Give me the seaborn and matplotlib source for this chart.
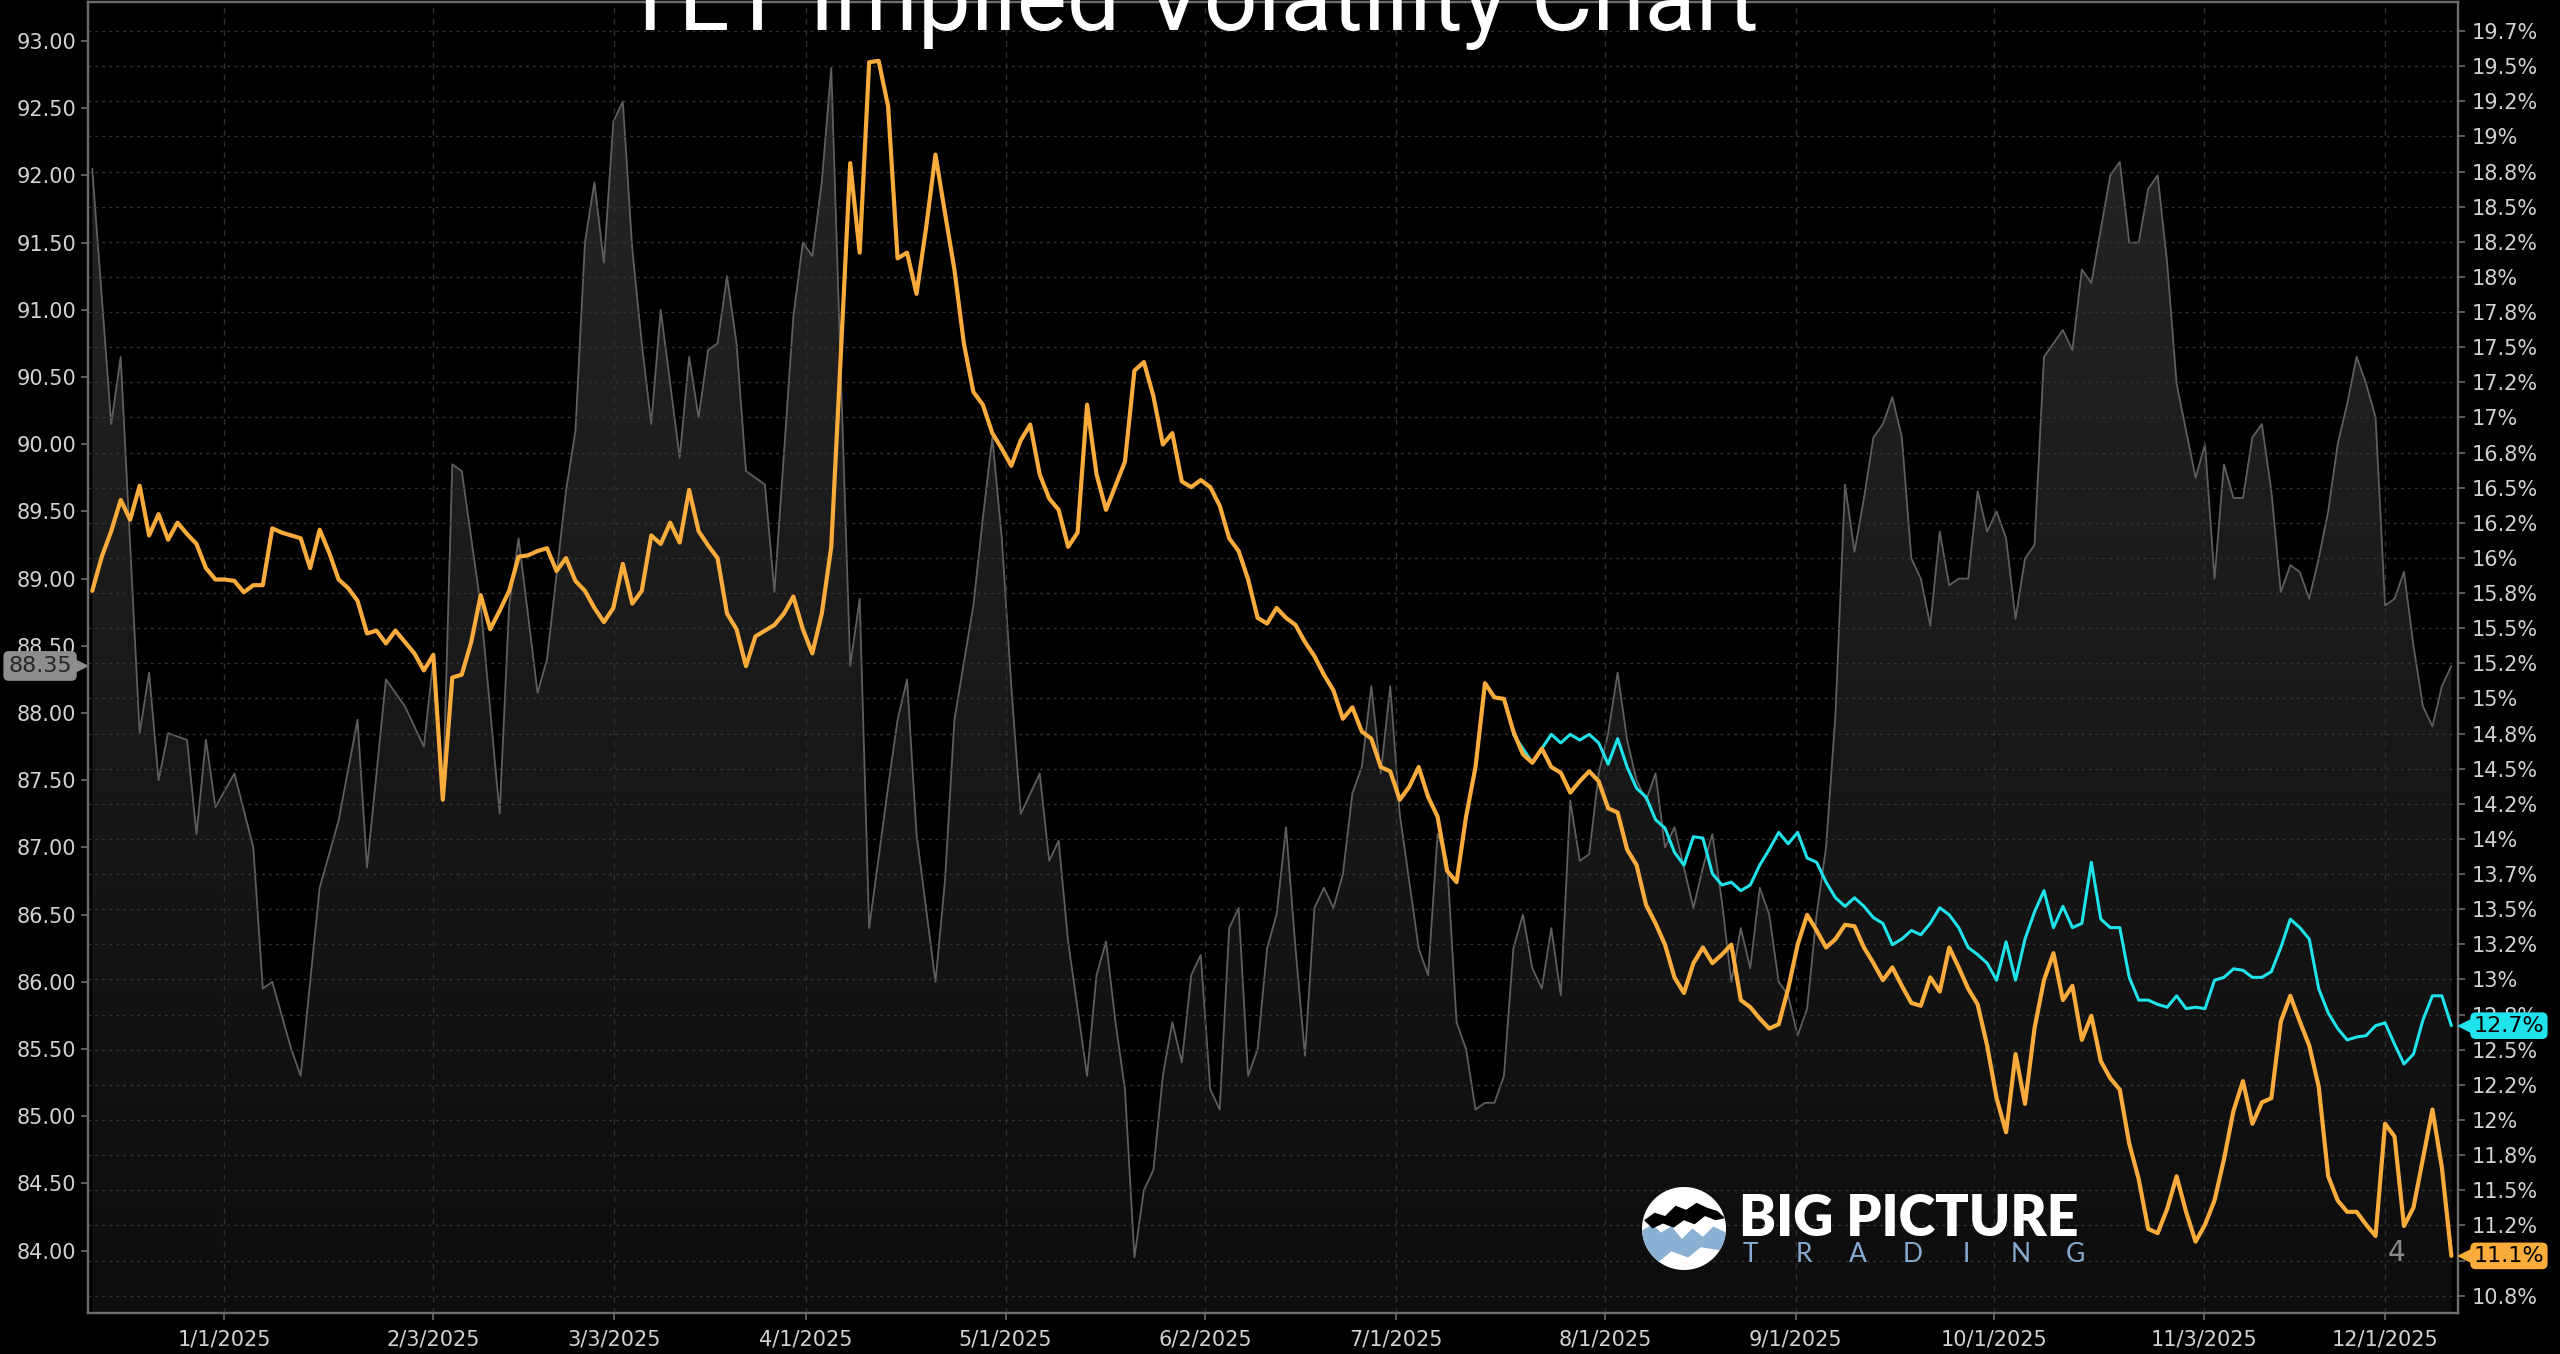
import numpy as np
import matplotlib
matplotlib.use("Agg")
import matplotlib.pyplot as plt
import matplotlib.transforms as mtransforms
from matplotlib.colors import LinearSegmentedColormap
from matplotlib.patches import Circle, Polygon
import seaborn as sns

# x axis = bar number (one bar per trading session, 0 = first bar on the chart)
tick_bar = [13.9, 36.0, 55.1, 75.3, 96.4, 117.5, 137.6, 159.7, 179.8, 200.7, 222.9, 242.0]
tick_dates = ["1/1/2025", "2/3/2025", "3/3/2025", "4/1/2025", "5/1/2025", "6/2/2025",
              "7/1/2025", "8/1/2025", "9/1/2025", "10/1/2025", "11/3/2025", "12/1/2025"]

# TLT close (left axis)
tlt_bar = [0, 2, 3, 5, 6, 7, 8, 10, 11, 12, 13, 15, 17, 18, 19, 21, 22, 24, 26, 28,
           29, 31, 33, 35, 36, 37, 38, 39, 40, 41, 43, 44, 45, 47, 48, 50, 51, 52, 53, 54,
           55, 56, 57, 58, 59, 60, 62, 63, 64, 65, 66, 67, 68, 69, 71, 72, 74, 75, 76, 77,
           78, 79, 80, 81, 82, 84, 85, 86, 87, 89, 90, 91, 93, 94, 95, 96, 97, 98] + list(range(100, 250))
tlt_close = [92.05, 90.15, 90.65, 87.85, 88.3, 87.5, 87.85, 87.8, 87.1, 87.8,
             87.3, 87.55, 87.0, 85.95, 86.0, 85.5, 85.3, 86.7, 87.2, 87.95,
             86.85, 88.25, 88.05, 87.75, 88.4, 87.35, 89.85, 89.8, 89.3, 88.8,
             87.25, 88.8, 89.3, 88.15, 88.4, 89.65, 90.1, 91.5, 91.95, 91.35,
             92.4, 92.55, 91.45, 90.75, 90.15, 91.0, 89.9, 90.65, 90.2, 90.7,
             90.75, 91.25, 90.75, 89.8, 89.7, 88.9, 90.95, 91.5, 91.4, 91.95,
             92.8, 90.55, 88.35, 88.85, 86.4, 87.45, 87.95, 88.25, 87.1, 86.0,
             86.75, 87.95, 88.8, 89.45, 90.05, 89.3, 88.2, 87.25,
             87.55, 86.9, 87.05, 86.3, 85.8, 85.3, 86.05, 86.3, 85.7, 85.2,
             83.95, 84.45, 84.6, 85.3, 85.7, 85.4, 86.05, 86.2, 85.2, 85.05,
             86.4, 86.55, 85.3, 85.5, 86.25, 86.5, 87.15, 86.25, 85.45, 86.55,
             86.7, 86.55, 86.8, 87.4, 87.6, 88.2, 87.55, 88.2, 87.25, 86.75,
             86.25, 86.05, 87.1, 86.9, 85.7, 85.5, 85.05, 85.1, 85.1, 85.3,
             86.25, 86.5, 86.1, 85.95, 86.4, 85.9, 87.35, 86.9, 86.95, 87.55,
             87.85, 88.3, 87.8, 87.5, 87.35, 87.55, 87.0, 87.15, 86.85, 86.55,
             86.85, 87.1, 86.6, 86.0, 86.4, 86.1, 86.7, 86.5, 86.0, 85.9,
             85.6, 85.8, 86.5, 87.0, 88.0, 89.7, 89.2, 89.6, 90.05, 90.15,
             90.35, 90.05, 89.15, 89.0, 88.65, 89.35, 88.95, 89.0, 89.0, 89.65,
             89.35, 89.5, 89.3, 88.7, 89.15, 89.25, 90.65, 90.75, 90.85, 90.7,
             91.3, 91.2, 91.6, 92.0, 92.1, 91.5, 91.5, 91.9, 92.0, 91.35,
             90.45, 90.1, 89.75, 90.0, 89.0, 89.85, 89.6, 89.6, 90.05, 90.15,
             89.65, 88.9, 89.1, 89.05, 88.85, 89.15, 89.5, 90.0, 90.3, 90.65,
             90.45, 90.2, 88.8, 88.85, 89.05, 88.5, 88.05, 87.9, 88.2, 88.35]

# implied volatility, % (right axis)
iv_bar = list(range(0, 246)) + [247, 248, 249]
iv = [15.76, 16.00, 16.18, 16.40, 16.26, 16.50, 16.15, 16.30, 16.12, 16.24,
      16.16, 16.09, 15.92, 15.84, 15.84, 15.83, 15.75, 15.80, 15.80, 16.20,
      16.17, 16.15, 16.13, 15.92, 16.19, 16.03, 15.84, 15.78, 15.69, 15.46,
      15.48, 15.39, 15.48, 15.40, 15.32, 15.20, 15.31, 14.29, 15.15, 15.17,
      15.40, 15.73, 15.49, 15.62, 15.76, 16.00, 16.01, 16.04, 16.06, 15.90,
      15.99, 15.83, 15.76, 15.64, 15.54, 15.64, 15.95, 15.67, 15.76, 16.15,
      16.09, 16.24, 16.10, 16.47, 16.18, 16.08, 15.99, 15.60, 15.49, 15.23,
      15.44, 15.48, 15.52, 15.60, 15.72, 15.49, 15.32, 15.60, 16.07, 17.41,
      18.77, 18.14, 19.48, 19.49, 19.17, 18.10, 18.14, 17.85, 18.31, 18.83,
      18.42, 18.02, 17.50, 17.16, 17.07, 16.87, 16.76, 16.64, 16.82, 16.93,
      16.58, 16.41, 16.33, 16.07, 16.17, 17.07, 16.58, 16.33, 16.50, 16.67,
      17.31, 17.37, 17.13, 16.79, 16.87, 16.53, 16.49, 16.54, 16.49, 16.36,
      16.13, 16.04, 15.84, 15.57, 15.53, 15.64, 15.57, 15.52, 15.40, 15.30,
      15.17, 15.06, 14.86, 14.94, 14.77, 14.72, 14.52, 14.49, 14.29, 14.38,
      14.52, 14.31, 14.17, 13.79, 13.71, 14.17, 14.52, 15.11, 15.01, 15.00,
      14.77, 14.61, 14.55, 14.65, 14.52, 14.48, 14.34, 14.42, 14.49, 14.42,
      14.23, 14.20, 13.94, 13.83, 13.55, 13.42, 13.27, 13.04, 12.93, 13.14,
      13.25, 13.14, 13.20, 13.27, 12.88, 12.83, 12.75, 12.68, 12.71, 12.96,
      13.27, 13.48, 13.37, 13.25, 13.31, 13.41, 13.40, 13.25, 13.14, 13.02,
      13.11, 12.98, 12.86, 12.84, 13.04, 12.94, 13.25, 13.11, 12.96, 12.85,
      12.56, 12.19, 11.95, 12.50, 12.15, 12.68, 13.02, 13.21, 12.88, 12.98,
      12.60, 12.77, 12.45, 12.33, 12.25, 11.87, 11.62, 11.27, 11.24, 11.41,
      11.64, 11.39, 11.18, 11.30, 11.47, 11.76, 12.10, 12.31, 12.01, 12.16,
      12.19, 12.73, 12.91, 12.73, 12.56, 12.27, 11.64, 11.47, 11.39, 11.39,
      11.30, 11.22, 12.01, 11.92, 11.29, 11.42,
      12.11, 11.70, 11.08]

# second volatility series (cyan), %
hv_bar = list(range(150, 250))
hv = [14.75, 14.65, 14.55, 14.65, 14.75, 14.69, 14.75, 14.71, 14.75, 14.69,
      14.54, 14.72, 14.52, 14.37, 14.31, 14.15, 14.09, 13.92, 13.83, 14.03,
      14.02, 13.77, 13.69, 13.71, 13.65, 13.69, 13.83, 13.94, 14.06, 13.98,
      14.06, 13.88, 13.85, 13.71, 13.60, 13.54, 13.60, 13.54, 13.46, 13.42,
      13.27, 13.31, 13.37, 13.34, 13.42, 13.53, 13.48, 13.39, 13.25, 13.20,
      13.14, 13.02, 13.29, 13.02, 13.31, 13.50, 13.65, 13.39, 13.54, 13.39,
      13.42, 13.85, 13.45, 13.39, 13.39, 13.04, 12.88, 12.88, 12.85, 12.83,
      12.91, 12.82, 12.83, 12.82, 13.02, 13.04, 13.10, 13.09, 13.04, 13.04,
      13.08, 13.25, 13.45, 13.39, 13.31, 12.96, 12.79, 12.68, 12.60, 12.62,
      12.63, 12.70, 12.72, 12.57, 12.43, 12.50, 12.74, 12.91, 12.91, 12.70]

price_ticks = [84.0, 84.5, 85.0, 85.5, 86.0, 86.5, 87.0, 87.5, 88.0, 88.5,
               89.0, 89.5, 90.0, 90.5, 91.0, 91.5, 92.0, 92.5, 93.0]
iv_tick_labels = ["19.7%", "19.5%", "19.2%", "19%", "18.8%", "18.5%", "18.2%", "18%",
                  "17.8%", "17.5%", "17.2%", "17%", "16.8%", "16.5%", "16.2%", "16%",
                  "15.8%", "15.5%", "15.2%", "15%", "14.8%", "14.5%", "14.2%", "14%",
                  "13.7%", "13.5%", "13.2%", "13%", "12.8%", "12.5%", "12.2%", "12%",
                  "11.8%", "11.5%", "11.2%", "11%", "10.8%"]
iv_ticks = np.linspace(19.7, 10.8, len(iv_tick_labels))

ORANGE = "#f9ab3b"
CYAN = "#1fe2ea"
GREY_BOX = "#8d8d8d"
SPINE = "#6c6c6c"
TXT = "#d2d2d2"

sns.set_theme(style="dark")
plt.rcParams["font.family"] = ["DejaVu Sans"]

fig = plt.figure(figsize=(25.6, 13.54), dpi=100, facecolor="black")
ax = fig.add_axes([88 / 2560, 1 - 1313 / 1354, (2458 - 88) / 2560, (1313 - 2) / 1354])
ax.set_facecolor("black")
ax2 = ax.twinx()

xlo, xhi = -0.45, 249.7
plo, phi = 83.536, 93.29
ax.set_xlim(xlo, xhi)
ax.set_ylim(plo, phi)

# grey area with a soft vertical gradient
fill = ax.fill_between(tlt_bar, tlt_close, plo, facecolor="none", edgecolor="none")
grad = np.linspace(0, 1, 256).reshape(-1, 1)
cmap = LinearSegmentedColormap.from_list("tltfill", ["#0d0d0d", "#262626"])
img = ax.imshow(grad, extent=[xlo, xhi, plo, phi], origin="lower", aspect="auto",
                cmap=cmap, zorder=1)
img.set_clip_path(fill.get_paths()[0], transform=ax.transData)
sns.lineplot(x=tlt_bar, y=tlt_close, ax=ax, color="#5e5e5e", lw=1.3, zorder=2)
ax.set_xlim(xlo, xhi)
ax.set_ylim(plo, phi)

sns.lineplot(x=iv_bar, y=iv, ax=ax2, color=ORANGE, lw=3.0, zorder=4)
sns.lineplot(x=hv_bar, y=hv, ax=ax2, color=CYAN, lw=2.2, zorder=3)
ax2.set_ylim(10.678, 19.904)
ax2.set_xlim(xlo, xhi)

# axes styling
ax.set_yticks(price_ticks, [f"{v:.2f}" for v in price_ticks])
ax.set_xticks(tick_bar, tick_dates)
ax2.set_yticks(iv_ticks, iv_tick_labels)
for a in (ax, ax2):
    a.set_xlabel("")
    a.set_ylabel("")
    for sp in a.spines.values():
        sp.set_visible(True)
        sp.set_color(SPINE)
        sp.set_linewidth(1.6)
ax.tick_params(axis="both", colors=SPINE, labelcolor=TXT, labelsize=15, length=5, width=1.2,
               direction="out", left=True, bottom=True)
ax.tick_params(axis="x", pad=7)
ax2.tick_params(axis="y", colors=SPINE, labelcolor=TXT, labelsize=15, length=5, width=1.2,
                direction="out", right=True, pad=5)

ax.grid(False)
ax.set_axisbelow(False)
ax.xaxis.grid(True, color="#2e2e2e", ls=(0, (4, 4)), lw=1.0)
ax2.grid(False)
ax2.yaxis.grid(True, color="#333333", ls=(0, (2, 3)), lw=1.0)

# last-value labels
tl = mtransforms.blended_transform_factory(ax.transAxes, ax.transData)
tr = mtransforms.blended_transform_factory(ax2.transAxes, ax2.transData)
last_p = tlt_close[-1]
ax.text(-0.0068, last_p, f"{last_p:.2f}", transform=tl, ha="right", va="center", fontsize=16,
        color="#262626", zorder=10, clip_on=False,
        bbox=dict(boxstyle="round,pad=0.22,rounding_size=0.25", fc=GREY_BOX, ec="none"))
ax.plot([-0.0026], [last_p], marker=">", ms=10, mew=0, color=GREY_BOX, transform=tl,
        clip_on=False, zorder=10)
for val, col in ((hv[-1], CYAN), (iv[-1], ORANGE)):
    ax2.text(1.0066, val, f"{val:.1f}%", transform=tr, ha="left", va="center", fontsize=16,
             color="black", zorder=10, clip_on=False,
             bbox=dict(boxstyle="round,pad=0.15,rounding_size=0.25", fc=col, ec="none"))
    ax2.plot([1.0026], [val], marker="<", ms=10, mew=0, color=col, transform=tr,
             clip_on=False, zorder=10)

ax2.text(0.974, 0.046, "4", transform=ax2.transAxes, ha="center", va="center",
         fontsize=20, color="#8a8a8a")

# title (runs off the top edge like the source)
fig.text(1190 / 2560, 1 - 30 / 1354, "TLT Implied Volatility Chart", ha="center", va="baseline",
         fontsize=68, color="white",
         family=["Liberation Sans Narrow", "Roboto", "DejaVu Sans"])

# watermark logo
lax = fig.add_axes([1642 / 2560, 1 - 1270 / 1354, 84 / 2560, 83 / 1354])
lax.set_xlim(-1, 1)
lax.set_ylim(-1, 1)
lax.axis("off")
disc = Circle((0, 0), 1, fc="white", ec="none")
lax.add_patch(disc)
blue = Polygon([(-1, -0.05), (-0.75, 0.1), (-0.55, -0.1), (-0.3, 0.05), (-0.05, -0.25),
                (0.2, 0.0), (0.45, -0.2), (0.7, 0.05), (1, -0.1), (1, -0.55), (0.4, -0.45),
                (0.1, -0.7), (-0.3, -0.55), (-0.6, -0.8), (-1, -0.6)], fc="#8ab0d3", ec="none")
ridge = Polygon([(-0.95, 0.2), (-0.7, 0.38), (-0.45, 0.3), (-0.2, 0.55), (0.05, 0.45),
                 (0.3, 0.62), (0.55, 0.5), (0.8, 0.42), (0.98, 0.25), (0.75, 0.2),
                 (0.5, 0.3), (0.25, 0.1), (0.0, 0.2), (-0.25, 0.02), (-0.5, 0.12),
                 (-0.75, 0.0)], fc="black", ec="none")
for p in (blue, ridge):
    lax.add_patch(p)
    p.set_clip_path(disc)

fig.text(1739 / 2560, 1 - 1236 / 1354, "BIG PICTURE", ha="left", va="baseline", fontsize=40,
         fontweight="heavy", color="white", family=["Lato", "DejaVu Sans"])
for xp, ch in zip(np.linspace(1750, 2075, 7), "TRADING"):
    fig.text(xp / 2560, 1 - 1262 / 1354, ch, ha="center", va="baseline", fontsize=19,
             color="#86acd2", family=["Lato", "DejaVu Sans"], fontweight="normal")

fig.savefig("out.png", dpi=100, facecolor="black")
